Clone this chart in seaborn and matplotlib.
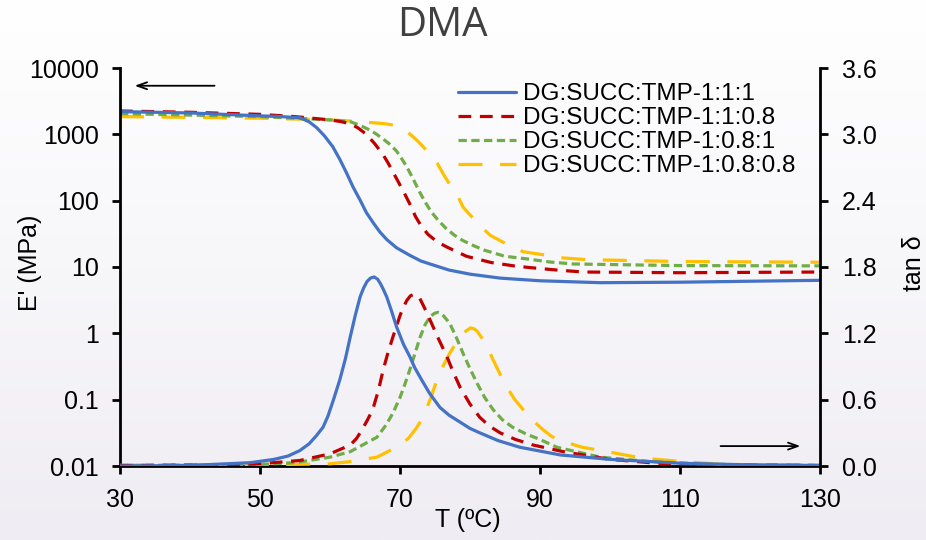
import numpy as np
import pandas as pd
import matplotlib
matplotlib.use("Agg")
import matplotlib.pyplot as plt
import seaborn as sns
from matplotlib.lines import Line2D
from matplotlib.ticker import FixedLocator, FixedFormatter, NullLocator
from matplotlib.colors import LinearSegmentedColormap

# ---------------- data ----------------
labels = ["DG:SUCC:TMP-1:1:1", "DG:SUCC:TMP-1:1:0.8",
          "DG:SUCC:TMP-1:0.8:1", "DG:SUCC:TMP-1:0.8:0.8"]

# storage modulus E' (MPa)
e_T_blue = [30, 40, 50, 53, 55.7, 57, 58.1, 59.2, 60.4, 61.4, 62.4, 63.3, 64.3, 65.2, 66.2, 67.1, 68.1, 69.5, 71.4, 73, 75, 77, 80, 84.3, 90, 98.6, 110, 120, 130]
e_blue   = [2200, 2100, 1900, 1850, 1780, 1550, 1260, 950, 650, 420, 257, 160, 102, 66, 46, 34, 26, 19.5, 15, 12.3, 10.5, 9.0, 7.8, 6.8, 6.2, 5.8, 5.9, 6.1, 6.3]

e_T_red = [30, 40, 50, 55, 60, 61.5, 62.9, 64, 65.2, 66.4, 67.6, 68.3, 69, 69.9, 70.7, 71.5, 72.2, 73, 74, 75.3, 76.7, 79.5, 83, 86.5, 89, 92.4, 96.2, 110, 130]
e_red   = [2250, 2150, 2000, 1850, 1650, 1560, 1440, 1250, 1000, 720, 490, 370, 270, 180, 125, 85, 58, 42, 31, 24, 20, 14.5, 11.7, 10.3, 9.7, 9.0, 8.4, 8.2, 8.4]

e_T_green = [30, 40, 50, 55, 60, 62.9, 64.2, 65.4, 66.5, 67.6, 68.6, 69.5, 70.3, 71.0, 71.9, 72.8, 73.6, 74.5, 75.5, 76.6, 77.8, 79, 80.5, 82, 85, 88, 91.4, 94.8, 110, 130]
e_green   = [2050, 1950, 1850, 1750, 1650, 1550, 1380, 1200, 1030, 850, 700, 560, 420, 320, 210, 135, 95, 67, 50, 38, 30, 25, 21, 18, 14.5, 13.3, 11.9, 11.1, 10.5, 10.4]

e_T_yellow = [30, 40, 50, 55, 60, 63.3, 66.7, 68, 69, 70, 71, 71.9, 72.6, 73.3, 74.3, 75.3, 76.4, 77.3, 78.3, 79, 80.2, 81.4, 82.1, 82.9, 84.3, 85.7, 87.6, 91, 92.9, 96.7, 110, 130]
e_yellow   = [1850, 1800, 1750, 1700, 1650, 1580, 1480, 1440, 1380, 1260, 1100, 910, 780, 650, 500, 370, 230, 165, 115, 80, 58, 43, 36, 30, 25, 21, 17, 15, 13.8, 12.9, 12.1, 11.8]

# loss factor tan delta
t_T_blue = [30, 40, 48.6, 52, 54, 55.7, 57, 58, 59, 59.7, 60.5, 61.4, 62.2, 62.9, 63.6, 64.3, 64.8, 65.3, 65.8, 66.3, 66.8, 67.2, 67.6, 68.1, 68.8, 69.5, 70.5, 71.4, 72.1, 72.9, 74.2, 75.7, 77, 78.5, 80, 81.4, 84, 87.1, 92.9, 100, 110, 120, 130]
tan_blue = [0.0, 0.005, 0.03, 0.06, 0.09, 0.14, 0.2, 0.27, 0.35, 0.45, 0.6, 0.78, 0.97, 1.17, 1.36, 1.53, 1.61, 1.67, 1.70, 1.71, 1.69, 1.65, 1.60, 1.53, 1.40, 1.26, 1.10, 0.99, 0.89, 0.80, 0.66, 0.53, 0.46, 0.40, 0.34, 0.30, 0.23, 0.17, 0.10, 0.06, 0.025, 0.01, 0.005]

t_T_red = [30, 45, 50, 55.7, 60, 62.9, 63.8, 64.5, 65.3, 66.1, 66.9, 67.6, 68.3, 69, 70, 70.5, 71, 71.5, 71.9, 72.4, 72.8, 73.5, 74.3, 75.5, 76.7, 77.6, 78.6, 80, 81.4, 82.8, 84.3, 86.5, 89, 93.3, 100, 106.7, 115, 130]
tan_red = [0.005, 0.01, 0.02, 0.05, 0.11, 0.19, 0.25, 0.32, 0.41, 0.51, 0.68, 0.87, 1.03, 1.17, 1.36, 1.44, 1.50, 1.54, 1.55, 1.54, 1.52, 1.43, 1.32, 1.15, 0.99, 0.85, 0.71, 0.56, 0.44, 0.36, 0.30, 0.24, 0.19, 0.13, 0.06, 0.025, 0.01, 0.005]

t_T_green = [30, 45, 50, 55, 60, 62.9, 66.7, 68, 69, 70, 70.7, 71.4, 72.2, 72.9, 73.6, 74.3, 74.9, 75.4, 75.8, 76.2, 77.1, 78, 79, 80, 81, 82.1, 83.3, 84.6, 86.1, 88, 90, 92.4, 98.6, 105.7, 112.9, 120, 130]
tan_green = [0.005, 0.01, 0.015, 0.03, 0.08, 0.13, 0.26, 0.37, 0.48, 0.62, 0.74, 0.87, 1.03, 1.17, 1.28, 1.35, 1.38, 1.39, 1.38, 1.36, 1.29, 1.17, 1.02, 0.88, 0.75, 0.62, 0.51, 0.42, 0.35, 0.29, 0.24, 0.17, 0.08, 0.04, 0.02, 0.008, 0.005]

t_T_yellow = [30, 50, 60, 62.9, 66.7, 69.5, 71.2, 72.3, 73.3, 74.3, 75.3, 76.2, 77.1, 77.9, 78.6, 79.4, 80.1, 80.6, 81, 81.9, 82.6, 83.3, 84.3, 85.3, 86.4, 87.6, 89, 90.4, 91.6, 92.9, 96, 99.6, 104.7, 110.4, 115, 120, 130]
tan_yellow = [0.005, 0.01, 0.02, 0.04, 0.08, 0.17, 0.25, 0.34, 0.44, 0.60, 0.78, 0.91, 1.02, 1.10, 1.17, 1.22, 1.25, 1.24, 1.22, 1.14, 1.06, 0.96, 0.83, 0.71, 0.60, 0.51, 0.41, 0.33, 0.27, 0.23, 0.17, 0.13, 0.07, 0.04, 0.02, 0.01, 0.005]

x_ticks = [30, 50, 70, 90, 110, 130]
e_ticks = [0.01, 0.1, 1, 10, 100, 1000, 10000]
e_tick_labels = ["0.01", "0.1", "1", "10", "100", "1000", "10000"]
tan_ticks = [0.0, 0.6, 1.2, 1.8, 2.4, 3.0, 3.6]
tan_tick_labels = ["0.0", "0.6", "1.2", "1.8", "2.4", "3.0", "3.6"]

# ---------------- styling ----------------
colors = ["#4472C4", "#C00000", "#70AD47", "#FFC000"]
styles = ["-", (0, (4.0, 2.7)), (0, (2.6, 1.4)), (0, (7.5, 5.5))]
LW = 2.3

sns.set_style("white")
plt.rcParams["font.family"] = ["Liberation Sans", "DejaVu Sans"]
plt.rcParams["text.color"] = "black"
plt.rcParams["axes.labelcolor"] = "black"

fig = plt.figure(figsize=(9.26, 5.4), dpi=100)

# background gradient
bg = fig.add_axes([0, 0, 1, 1], zorder=-10)
cmap = LinearSegmentedColormap.from_list("bg", ["#ffffff", "#efedf3"])
bg.imshow(np.linspace(0, 1, 256).reshape(-1, 1), aspect="auto", cmap=cmap,
          extent=[0, 1, 0, 1])
bg.axis("off")

W, H = 926, 540
ax1 = fig.add_axes([120 / W, (H - 466) / H, 700 / W, 398 / H])
ax1.set_facecolor("none")
ax2 = ax1.twinx()
ax2.set_facecolor("none")

e_sets = [(e_T_blue, e_blue), (e_T_red, e_red), (e_T_green, e_green), (e_T_yellow, e_yellow)]
t_sets = [(t_T_blue, tan_blue), (t_T_red, tan_red), (t_T_green, tan_green), (t_T_yellow, tan_yellow)]

order = [3, 2, 1, 0]
for i in order:
    T, E = e_sets[i]
    df = pd.DataFrame({"T": T, "E": E})
    sns.lineplot(data=df, x="T", y="E", ax=ax1, color=colors[i], linestyle=styles[i],
                 linewidth=LW, legend=False, estimator=None, sort=False)
for i in order:
    T, tn = t_sets[i]
    df = pd.DataFrame({"T": T, "tan": tn})
    sns.lineplot(data=df, x="T", y="tan", ax=ax2, color=colors[i], linestyle=styles[i],
                 linewidth=LW, legend=False, estimator=None, sort=False)

ax1.set_yscale("log")
ax1.set_ylim(0.01, 10000)
ax1.set_xlim(30, 130)
ax2.set_ylim(0, 3.6)

ax1.yaxis.set_major_locator(FixedLocator(e_ticks))
ax1.yaxis.set_major_formatter(FixedFormatter(e_tick_labels))
ax1.yaxis.set_minor_locator(NullLocator())
ax1.xaxis.set_major_locator(FixedLocator(x_ticks))
ax1.set_xticklabels([str(v) for v in x_ticks])
ax2.yaxis.set_major_locator(FixedLocator(tan_ticks))
ax2.set_yticklabels(tan_tick_labels)

for ax in (ax1, ax2):
    for s in ax.spines.values():
        s.set_visible(False)
ax1.spines["left"].set_visible(True)
ax1.spines["bottom"].set_visible(True)
ax2.spines["right"].set_visible(True)
for s in (ax1.spines["left"], ax1.spines["bottom"], ax2.spines["right"]):
    s.set_linewidth(2.0)
    s.set_color("black")

ax1.tick_params(axis="both", which="major", direction="out", length=6, width=2.0,
                labelsize=18, pad=9, colors="black", left=True, bottom=True)
ax1.tick_params(axis="x", pad=10)
ax2.tick_params(axis="y", which="major", direction="out", length=6, width=2.0,
                labelsize=18, pad=10, colors="black", right=True)
ax1.grid(False)
ax2.grid(False)

ax1.set_xlabel("T (ºC)", fontsize=18, color="black")
ax1.set_ylabel("E' (MPa)", fontsize=18, color="black")
ax2.set_ylabel("tan δ", fontsize=18, color="black")
ax1.xaxis.set_label_coords(0.497, -0.105)
ax1.yaxis.set_label_coords(-0.112, 0.51)
ax2.yaxis.set_label_coords(1.117, 0.51)

# direction arrows
ax1.annotate("", xy=(31.7, 5400), xytext=(43.9, 5400),
             arrowprops=dict(arrowstyle="->,head_length=0.7,head_width=0.25", lw=1.3, color="black"))
ax2.annotate("", xy=(127.6, 0.18), xytext=(115.4, 0.18),
             arrowprops=dict(arrowstyle="->,head_length=0.7,head_width=0.25", lw=1.3, color="black"))

handles = [Line2D([0], [0], color=colors[i], linestyle=styles[i], linewidth=LW) for i in range(4)]
leg = ax2.legend(handles, labels, loc="upper left", bbox_to_anchor=(0.483, 0.962), frameon=False,
                 fontsize=17.5, labelspacing=0.08, handlelength=2.4, handletextpad=0.25,
                 borderpad=0, borderaxespad=0)
for t in leg.get_texts():
    t.set_color("black")

fig.text(442 / W, 1 - 26 / H, "DMA", ha="center", va="center", fontsize=29,
         color="#404040", family=["Open Sans", "DejaVu Sans"])

fig.savefig("out.png", dpi=100)
